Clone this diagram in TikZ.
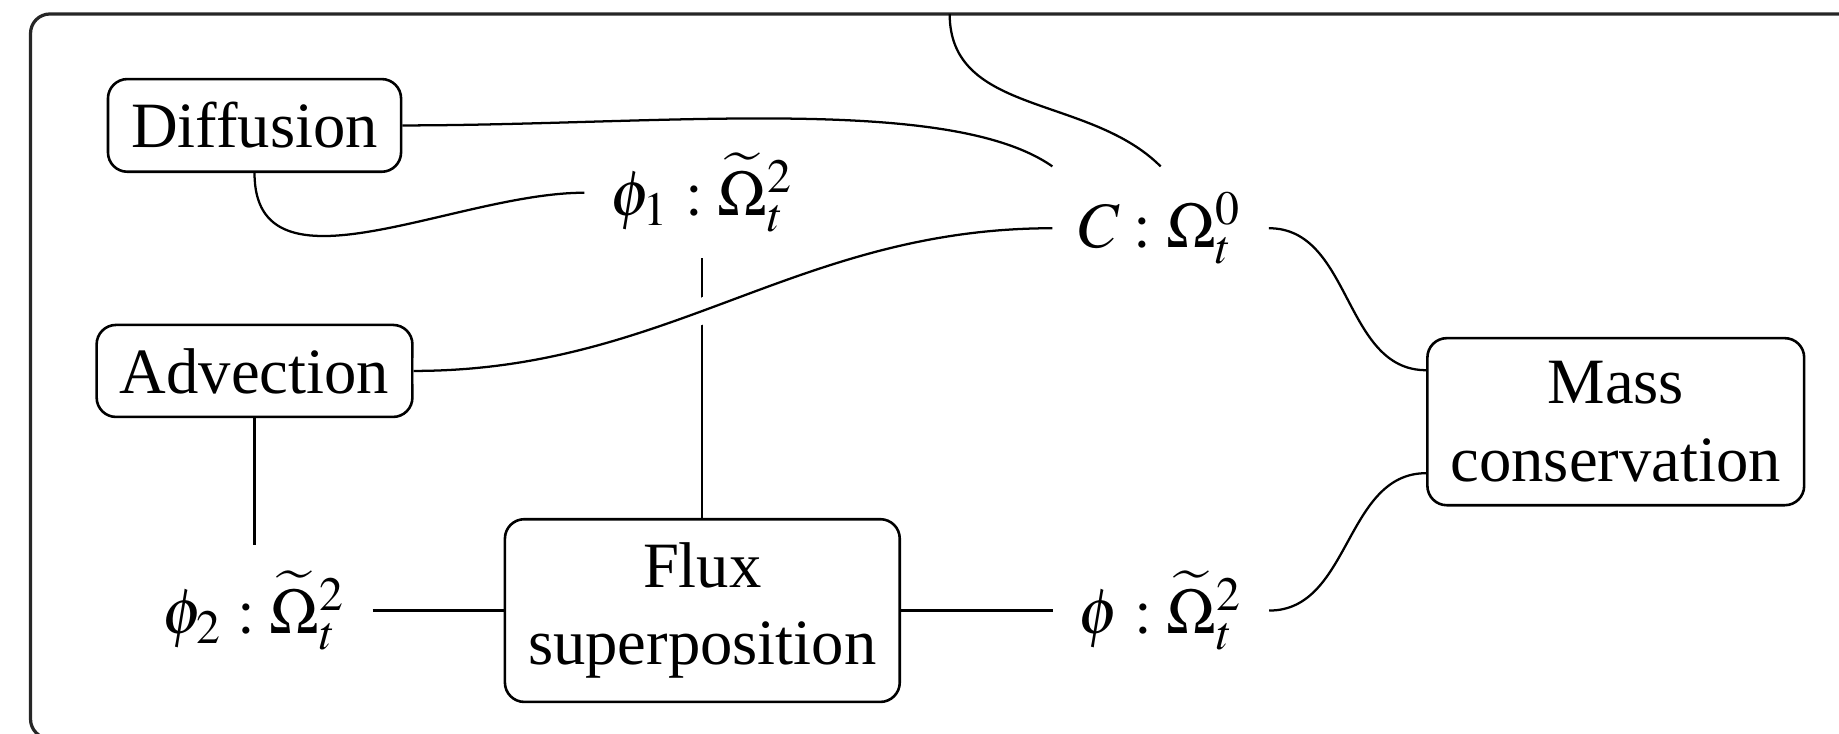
\documentclass[tikz,border=0pt]{standalone}
\usepackage{mathptmx}
\usepackage{fontspec}
\setmainfont{Liberation Serif}

\begin{document}
\begin{tikzpicture}[x=1cm,y=1cm,
  proc/.style={draw,rounded corners=3pt,align=center,inner sep=3.6pt,line width=0.4pt},
  var/.style={inner sep=3.8pt},
  wire/.style={line width=0.35pt},
  over/.style={wire,preaction={draw,white,line width=4pt}},
  frame/.style={draw=black!85,line width=0.5pt,rounded corners=3pt}]
\useasboundingbox (0,0) rectangle (10,3.986);
\draw[frame] (0.166,-0.03) rectangle (10.4,3.910);
% boxes
\node[proc] (diff) at (1.384,3.304) {Diffusion};
\node[proc] (adv) at (1.384,1.969) {Advection};
\node[proc] (flux) at (3.819,0.666) {Flux\\superposition};
\node[proc] (mass) at (8.786,1.693) {Mass\\conservation};
% fields
\node[var] (c) at (6.311,2.745) {$C : \Omega_t^0$};
\node[var] (p1) at (3.819,2.938) {$\phi_1 : \widetilde{\Omega}_t^2$};
\node[var] (p2) at (1.384,0.666) {$\phi_2 : \widetilde{\Omega}_t^2$};
\node[var] (p) at (6.314,0.666) {$\phi : \widetilde{\Omega}_t^2$};
\coordinate (top) at (5.164,3.910);
% links
\draw[wire] (diff.east) to[out=0,in=145,in looseness=0.5] (c.north west);
\draw[wire] (diff.south) to[out=-90,in=180] (p1.west);
\draw[wire] (top) to[out=-90,in=135] (c.north);
\draw[wire] (p1.south) -- (flux.north);
\draw[over] (adv.east) to[out=0,in=180] (c.west);
\draw[wire] (adv.south) -- (p2.north);
\draw[wire] (p2.east) -- (flux.west);
\draw[wire] (flux.east) -- (p.west);
\draw[wire] (c.east) to[out=0,in=180] ([yshift=2.8mm]mass.west);
\draw[wire] (p.east) to[out=0,in=180] ([yshift=-2.8mm]mass.west);
\end{tikzpicture}
\end{document}
